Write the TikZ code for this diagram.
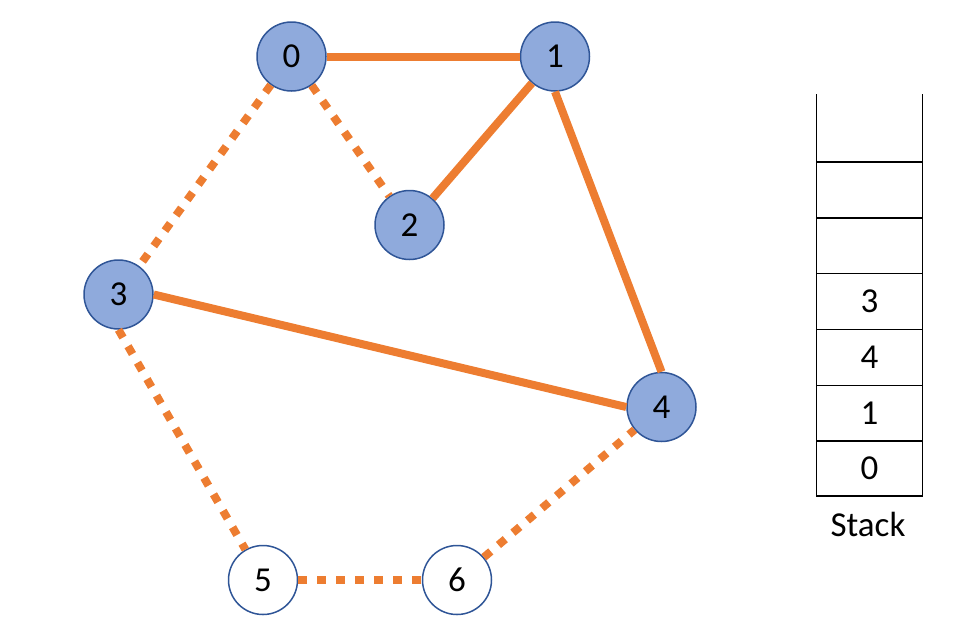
\documentclass[tikz,border=0pt]{standalone}
\usepackage{fontspec}
\setmainfont{Carlito}
\definecolor{nodefill}{HTML}{8FAADC}
\definecolor{nodeborder}{HTML}{2F5597}
\definecolor{edgeorange}{HTML}{ED7D31}
\begin{document}
\begin{tikzpicture}[x=1pt,y=-1pt,
  vnode/.style={circle,draw=nodeborder,line width=1.5pt,fill=nodefill,minimum size=69pt,inner sep=0pt,font=\fontsize{35}{35}\selectfont},
  wnode/.style={vnode,fill=white},
  solidedge/.style={draw=edgeorange,line width=8pt},
  dotedge/.style={draw=edgeorange,line width=8pt,dash pattern=on 9pt off 10pt},
  stackline/.style={draw=black,line width=1.5pt},
  stacktext/.style={font=\fontsize{35}{35}\selectfont}]
\useasboundingbox (0,0) rectangle (972,641);
\coordinate (p0) at (291.5,56.5);
\coordinate (p1) at (555,56.5);
\coordinate (p2) at (409.5,225);
\coordinate (p3) at (118.5,294.5);
\coordinate (p4) at (661.5,407);
\coordinate (p5) at (263,580);
\coordinate (p6) at (457,580);
\node[vnode] (n0) at (p0) {0};
\node[vnode] (n1) at (p1) {1};
\node[vnode] (n2) at (p2) {2};
\node[vnode] (n3) at (p3) {3};
\node[vnode] (n4) at (p4) {4};
\node[wnode] (n5) at (p5) {5};
\node[wnode] (n6) at (p6) {6};
\path[solidedge] (n0) -- (n1);
\path[solidedge] (n1) -- (n2);
\path[solidedge] (n1.south) -- (n4.north);
\path[solidedge] (n3.east) -- (n4.west);
\path[dotedge] (n0) -- (n2);
\path[dotedge] (n0) -- (n3);
\path[dotedge] (n3.south) -- (n5);
\path[dotedge] (n5) -- (n6);
\path[dotedge] (n6) -- (n4);
% stack
\coordinate (stl) at (816.5,94);
\coordinate (str) at (922.5,94);
\coordinate (sbl) at (816.5,496);
\coordinate (sbr) at (922.5,496);
\draw[stackline] (stl) -- (sbl) -- (sbr) -- (str);
\foreach \yy in {162,218,273.5,329.5,385.5,441} {
  \draw[stackline] (816.5,\yy) -- (922.5,\yy);
}
\node[stacktext] (s3) at (869.5,301.5) {3};
\node[stacktext] (s4) at (869.5,357.5) {4};
\node[stacktext] (s1) at (869.5,413) {1};
\node[stacktext] (s0) at (869.5,468.5) {0};
\node[stacktext] (stk) at (868,524) {Stack};
\end{tikzpicture}
\end{document}
